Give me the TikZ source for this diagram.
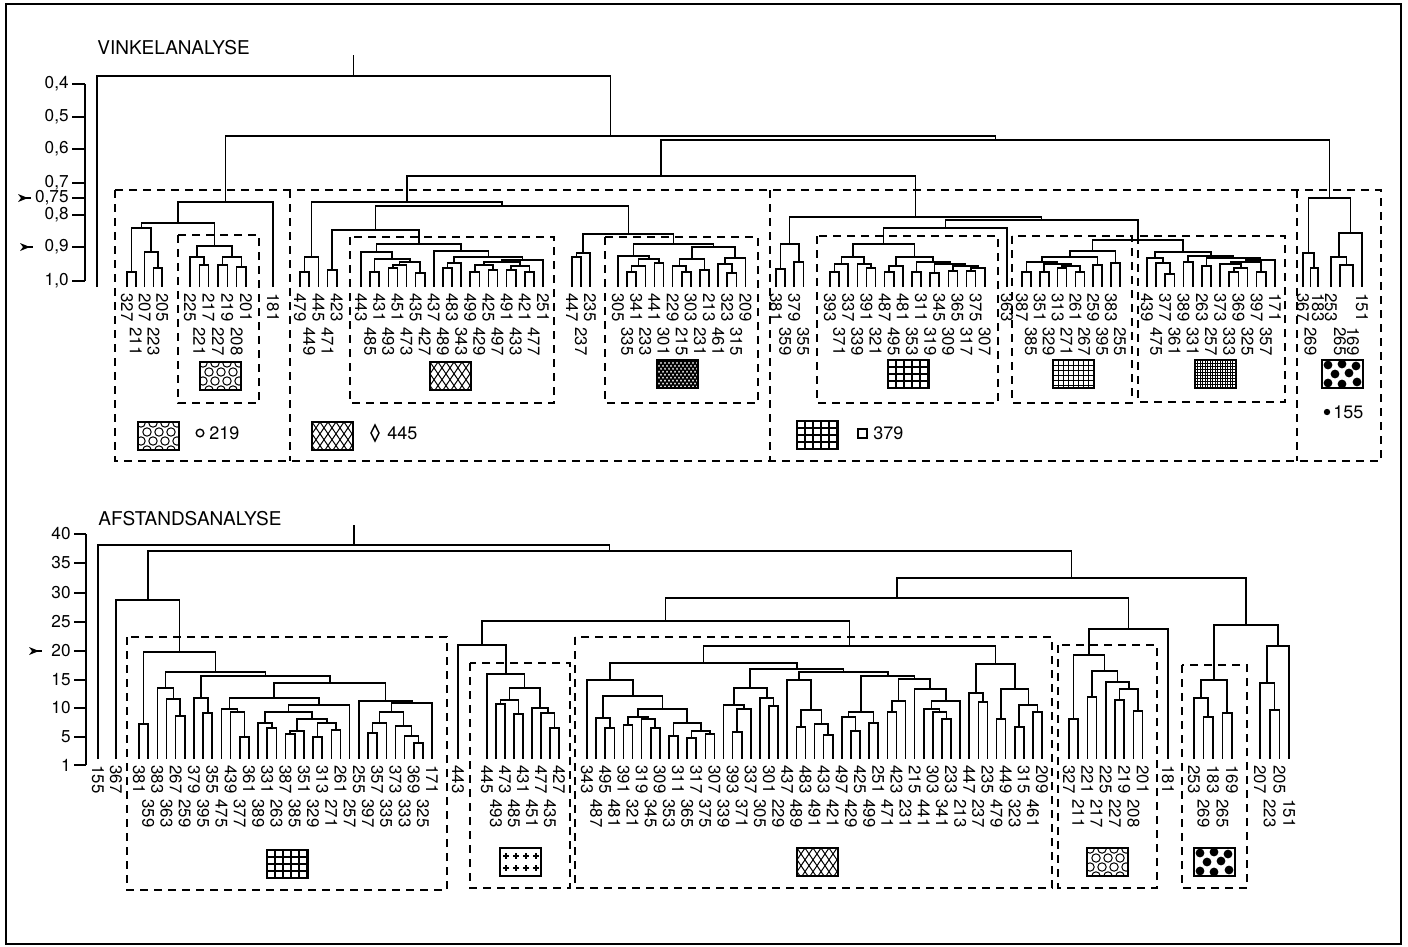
\documentclass[tikz,border=0pt]{standalone}
\usepackage{fontspec}
\setmainfont{TeX Gyre Heros}
\usepackage{tikz}
\usetikzlibrary{calc}
\tikzset{every node/.style={inner sep=0pt}}

% one link of a dendrogram: name, two children, height
\newcommand\jn[4]{%
  \coordinate (#1) at ($(#2)!.5!(#3)$);
  \coordinate (#1) at (#1 |- 0,#4);
  \draw[tree] (#2) |- (#1) -| (#3);}

% a run of leaves: prefix, first x, step, foot, row shift, labels
\newcommand\leafrun[6]{%
  \foreach \lab [count=\i] in {#6} {
    \pgfmathtruncatemacro\rw{mod(\i+1+#5,2)}
    \coordinate (#1\lab) at ({#2+(\i-1)*#3},#4);
    \node[leaf] (#1\lab t) at ({#2+(\i-1)*#3},{#4+6+34*\rw}) {\lab};
  }}

% fill swatches
\newcommand\swatch[3]{%
  \begin{scope}[shift={(#1,#2)}]
    \begin{scope}\clip (0,0) rectangle (41,28); #3 \end{scope}
    \draw[line width=0.8pt] (0,0) rectangle (41,28);
  \end{scope}}
\newcommand\patcirc{\foreach \r in {0,...,3} \foreach \c in {0,...,3}
  \draw[line width=0.5pt] ({\c*12+mod(\r,2)*6+3},{\r*9+1}) circle (2.1pt);}
\newcommand\patdiam[2]{\foreach \k in {-6,...,16}
  \draw[line width=#2] (\k*#1,0) -- ++(19,28) (\k*#1,0) -- ++(-19,28);}
\newcommand\patgrid[3]{\foreach \k in {0,#1,...,42} \draw[line width=#3] (\k,0) -- (\k,28);
  \foreach \k in {0,#2,...,28} \draw[line width=#3] (0,\k) -- (41,\k);}
\newcommand\patdots{\foreach \p in {(6,5),(20,4),(34,6),(13,14),(27,13),(6,23),(20,24),(35,22)}
  \fill \p circle (2.2pt);}
\newcommand\patplus{\foreach \p in {(6,8),(16,8),(26,8),(36,8),(6,20),(16,20),(26,20),(36,20)}
  \draw[line width=1pt] \p ++(-3,0) -- ++(6,0) \p ++(0,-3) -- ++(0,6);}

% level marker on the axis
\newcommand\pointer[2]{\fill (#1,#2-4) -- (#1+10,#2) -- (#1,#2+4) -- (#1+3,#2) -- cycle;
  \draw[line width=0.6pt] (#1+8,#2) -- (#1+13,#2);}

\begin{document}
\begin{tikzpicture}[
    x=0.5pt, y=-0.5pt,
    tree/.style={line width=0.8pt},
    box/.style={line width=1pt, dash pattern=on 4pt off 3pt},
    leaf/.style={rotate=-90, anchor=west, font=\fontsize{8.4}{10}\selectfont},
    tick/.style={anchor=east, font=\fontsize{8.6}{10}\selectfont},
    title/.style={anchor=base west, font=\fontsize{9.5}{11}\selectfont},
    legend/.style={anchor=west, font=\fontsize{9}{11}\selectfont}
]
\useasboundingbox (0,0) rectangle (1408,947);
\draw[line width=1.2pt] (6,4) rectangle (1401,944);

%% ---------------- VINKELANALYSE ----------------
\node[title] (vtitle) at (97,55) {VINKELANALYSE};
\draw[tree] (85,84) -- (85,281);
\foreach \tl/\yy [count=\i] in {{0,4}/84,{0,5}/117,{0,6}/149,{0,7}/183,{0,75}/198,{0,8}/215,{0,9}/247,{1,0}/281} {
  \draw[tree] (72,\yy) -- (85,\yy);
  \node[tick] (uy\i) at (69,\yy) {\tl};}
\pointer{18}{198}
\pointer{20}{247}

\coordinate (u0) at (97,287);
\leafrun{u}{127}{8.8}{287}{0}{327,211,207,223,205}
\leafrun{u}{190}{9.33}{287}{0}{225,221,217,227,219,208,201}
\leafrun{u}{273}{0}{287}{0}{181}
\leafrun{u}{300}{9.2}{287}{0}{479,449,445,471,423}
\leafrun{u}{361}{9.1}{287}{0}{443,485,431,493,451,473,435,427,437,489,483,343,499,429,425,497,491,433,421,477,251}
\leafrun{u}{572}{9}{287}{0}{447,237,235}
\leafrun{u}{618}{9.1}{287}{0}{305,335,341,233,441,301,229,215,303,231,213,461,323,315,209}
\leafrun{u}{776}{9.1}{287}{0}{381,359,379,355}
\leafrun{u}{830}{9.1}{287}{0}{393,371,337,339,391,321,487,495,481,353,311,319,345,309,365,317,375,307}
\leafrun{u}{1007}{0}{287}{0}{363}
\leafrun{u}{1022}{8.9}{287}{0}{387,385,351,329,313,271,261,267,259,395,383,255}
\leafrun{u}{1147}{9.14}{287}{0}{439,475,377,361,389,331,263,257,373,333,369,325,397,357,171}
\leafrun{u}{1303}{7.5}{287}{0}{367,269,183}
\leafrun{u}{1331}{9}{287}{0}{253,265}
\leafrun{u}{1353}{9}{287}{1}{169,151}

\foreach \n/\a/\b/\h in {
  ua1/u327/u211/272, ua2/u223/u205/268, ua3/u207/ua2/252, ua4/ua1/ua3/228,
  ua5/u221/u217/265, ua6/u225/ua5/257, ua7/u227/u219/265, ua8/u208/u201/267,
  ua9/ua7/ua8/257, ua10/ua6/ua9/246, ua11/ua4/ua10/223, ua12/ua11/u181/202,
  ub1/u479/u449/272, ub2/ub1/u445/257, ub3/u471/u423/270,
  ue1/u485/u431/272, ue2/u493/u451/268, ue3/ue2/u473/265, ue4/u435/u427/273,
  ue5/ue3/ue4/262, ue6/ue1/ue5/259, ue7/u443/ue6/252,
  ue8/u489/u483/268, ue9/ue8/u343/263, ue10/u499/u429/272, ue11/u425/u497/270,
  ue12/ue10/ue11/265, ue13/u491/u433/270, ue14/u421/u477/272, ue15/ue13/ue14/266,
  ue16/ue12/ue15/262, ue17/ue16/u251/260, ue18/ue9/ue17/257, ue19/u437/ue18/251,
  ue20/ue7/ue19/244, ub4/ub3/ue20/230,
  ub5/u447/u237/257, ub6/ub5/u235/253,
  uf1/u335/u341/272, uf2/uf1/u233/266, uf3/u441/u301/263, uf4/uf2/uf3/259,
  uf5/u305/uf4/256, uf6/u215/u303/272, uf7/u229/uf6/266, uf8/u231/u213/270,
  uf9/uf7/uf8/259, uf10/u323/u315/273, uf11/u461/uf10/264, uf12/uf11/u209/258,
  uf13/uf9/uf12/247, uf14/uf5/uf13/244, ub7/ub6/uf14/234, ub8/ub4/ub7/206,
  ub9/ub2/ub8/202,
  uh1/u381/u359/269, uh2/u379/u355/262, uh3/uh1/uh2/244,
  ui1/u393/u371/272, ui2/ui1/u337/264, ui3/u391/u321/268, ui4/u339/ui3/264,
  ui5/ui2/ui4/257, ui6/u487/u495/272, ui7/ui6/u481/266, ui8/u353/u311/272,
  ui9/u319/u345/273, ui10/u309/u365/271, ui11/u317/u375/271, ui12/ui11/u307/268,
  ui13/ui10/ui12/266, ui14/ui9/ui13/264, ui15/ui8/ui14/262, ui16/ui7/ui15/257,
  ui17/ui5/ui16/244, uh4/ui17/u363/228,
  uk1/u387/u385/272, uk2/u351/u329/272, uk3/u313/u271/268, uk4/u261/u267/272,
  uk5/uk3/uk4/266, uk6/uk2/uk5/264, uk7/uk1/uk6/262, uk8/u259/u395/265,
  uk9/uk7/uk8/257, uk10/u383/u255/263, uk11/uk9/uk10/251,
  um1/u377/u361/274, um2/u475/um1/263, um3/u439/um2/258, um4/u389/u331/262,
  um5/u263/u257/266, um6/u333/u369/272, um7/um6/u325/268, um8/u373/um7/264,
  um9/u397/u357/272, um10/um8/um9/262, um11/um10/u171/260, um12/um5/um11/258,
  um13/um4/um12/256, um14/um3/um13/252,
  uh5/uk11/um14/240, uh6/uh4/uh5/220, uh7/uh3/uh6/217,
  un1/u269/u183/268, un2/u367/un1/253, un3/u265/u169/265, un4/u253/un3/257,
  un5/un4/u151/233, un6/un2/un5/198,
  ut1/ub9/uh7/176, ut2/ut1/un6/140, ut3/ua12/ut2/136, ut4/u0/ut3/76}
  {\jn{\n}{\a}{\b}{\h}}
\draw[tree] (ut4) -- ++(0,-21);

% groups
\draw[box] (115,190) rectangle (1381,461);
\foreach \xx in {290,770,1297} \draw[box] (\xx,190) -- (\xx,461);
\draw[box] (178,235) rectangle (259,403);
\draw[box] (350,237) rectangle (554,403);
\draw[box] (605,237) rectangle (758,403);
\draw[box] (817,236) rectangle (998,403);
\draw[box] (1012,236) rectangle (1132,403);
\draw[box] (1138,236) rectangle (1285,402);

\swatch{200}{362}{\patcirc}
\swatch{430}{362}{\patdiam{8}{0.5pt}}
\swatch{657}{360}{\patdiam{4}{0.8pt}}
\swatch{888}{360}{\patgrid{8}{7}{0.6pt}}
\swatch{1053}{360}{\patgrid{5}{5}{0.5pt}}
\swatch{1195}{360}{\patgrid{2.5}{3}{0.45pt}}
\swatch{1322}{360}{\patdots}

\swatch{138}{422}{\patcirc}
\draw[line width=0.7pt] (200,433) circle (1.9pt);
\node[legend] (g219) at (209,433) {219};
\swatch{312}{422}{\patdiam{8}{0.5pt}}
\draw[line width=0.7pt] (375,425) -- (379,433) -- (375,441) -- (371,433) -- cycle;
\node[legend] (g445) at (387,433) {445};
\swatch{797}{421}{\patgrid{8}{7}{0.6pt}}
\draw[line width=0.8pt] (858,429) rectangle (867,438);
\node[legend] (g379) at (873,433) {379};
\fill (1327,412) circle (1.6pt);
\node[legend] (g155) at (1333,412) {155};

%% ---------------- AFSTANDSANALYSE ----------------
\node[title] (atitle) at (98,525) {AFSTANDSANALYSE};
\draw[tree] (86,534) -- (86,765);
\foreach \tl/\yy [count=\i] in {40/534,35/563,30/593,25/622,20/651,15/680,10/708,5/737,1/765} {
  \draw[tree] (74,\yy) -- (86,\yy);
  \node[tick] (ly\i) at (71,\yy) {\tl};}
\pointer{29}{651}

\leafrun{l}{98}{0}{759}{0}{155}
\leafrun{l}{116}{0}{759}{0}{367}
\leafrun{l}{139}{9.16}{759}{0}{381,359,383,363,267,259,379,395,355,475,439,377,361,389,331,263,387,385,351,329,313,271,261,257,255,397,357,335,373,333,369,325,171}
\leafrun{l}{458}{0}{759}{0}{443}
\leafrun{l}{487}{9}{759}{0}{445,493,473,485,431,451,477,435,427}
\leafrun{l}{587}{9.1}{759}{0}{343,487,495,481,391,321,319,345,309,353,311,365,317,375,307,339,393,371,337,305,301,229,437,489,483,491,433,421,497,429,425,499,251,471,423,231,215,441,303,341,233,213,447,237,235,479,449,323,315,461,209}
\leafrun{l}{1069}{9.2}{759}{0}{327,211,221,217,225,227,219,208,201}
\leafrun{l}{1168}{0}{759}{0}{181}
\leafrun{l}{1194}{9.5}{759}{0}{253,269,183,265,169}
\leafrun{l}{1260}{9.7}{759}{0}{207,223,205,151}

\foreach \n/\a/\b/\h in {
  ls1/l381/l359/724, ls2/l267/l259/716, ls3/l363/ls2/699, ls4/l383/ls3/688,
  ls5/l395/l355/713, ls6/l379/ls5/698, ls7/l377/l361/737, ls8/l439/ls7/712,
  ls9/l475/ls8/709, ls10/l331/l263/728, ls11/l389/ls10/723, ls12/l387/l385/734,
  ls13/ls12/l351/731, ls14/l329/l313/737, ls15/l271/l261/730, ls16/ls14/ls15/723,
  ls17/ls13/ls16/719, ls18/ls11/ls17/712, ls19/ls18/l257/705, ls20/ls9/ls19/698,
  ls21/l397/l357/733, ls22/ls21/l335/723, ls23/l369/l325/743, ls24/l333/ls23/736,
  ls25/l373/ls24/726, ls26/ls22/ls25/712, ls27/ls26/l171/703, ls28/l255/ls27/701,
  ls29/ls20/ls28/683, ls30/ls6/ls29/676, ls31/ls4/ls30/672, ls32/ls1/ls31/652,
  lp1/l367/ls32/600,
  lv1/l493/l473/704, lv2/l485/l431/714, lv3/lv1/lv2/700, lv4/l435/l427/728,
  lv5/l477/lv4/713, lv6/l451/lv5/708, lv7/lv3/lv6/688, lv8/l445/lv7/674,
  lp2/l443/lv8/645,
  lw1/l495/l481/728, lw2/l487/lw1/718, lw3/l391/l321/725, lw4/l345/l309/728,
  lw5/l319/lw4/719, lw6/lw3/lw5/717, lw7/l353/l311/736, lw8/l365/l317/738,
  lw9/l375/l307/734, lw10/lw8/lw9/731, lw11/lw7/lw10/723, lw12/lw6/lw11/709,
  lw13/lw2/lw12/696, lw14/l343/lw13/680,
  lx1/l393/l371/732, lx2/lx1/l337/709, lx3/l339/lx2/705, lx4/l301/l229/706,
  lx5/l305/lx4/698, lx6/lx3/lx5/688,
  ly1/l489/l483/727, ly2/l433/l421/735, ly3/l491/ly2/724, ly4/ly1/ly3/710,
  ly5/l429/l425/731, ly6/l497/ly5/717, ly7/l499/l251/723, ly8/ly6/ly7/712,
  ly9/l471/l423/712, ly10/ly9/l231/701,
  lz1/l341/l233/719, lz2/l303/lz1/712, lz3/l441/lz2/709, lz4/lz3/l213/701,
  lz5/l215/lz4/689, ly11/ly10/lz5/679, ly12/ly8/ly11/676, ly13/l437/ly4/680,
  ly14/ly13/ly12/672, ly15/lx6/ly14/669, lw15/lw14/ly15/663,
  la1/l237/l235/702, la2/l447/la1/693, la3/l479/l449/719, la4/l323/l315/727,
  la5/l461/l209/712, la6/la4/la5/705, la7/la3/la6/689, la8/la2/la7/664,
  lp3/lw15/la8/646,
  lb1/l327/l211/719, lb2/l221/l217/697, lb3/l227/l219/700, lb4/l208/l201/711,
  lb5/lb3/lb4/689, lb6/l225/lb5/682, lb7/lb2/lb6/671, lb8/lb1/lb7/655,
  lp4/lb8/l181/629,
  lc1/l269/l183/717, lc2/l253/lc1/698, lc3/l265/l169/713, lc4/lc2/lc3/680,
  ld1/l223/l205/710, ld2/l207/ld1/683, ld3/ld2/l151/646, lp5/lc4/ld3/625,
  lp6/lp2/lp3/621, lp7/lp6/lp4/598, lp8/lp7/lp5/578, lp9/lp1/lp8/551,
  lp10/l155/lp9/545}
  {\jn{\n}{\a}{\b}{\h}}
\draw[tree] (lp10) -- ++(0,-20);

% groups
\draw[box] (127,637) rectangle (447,890);
\draw[box] (470,663) rectangle (570,888);
\draw[box] (575,637) rectangle (1052,888);
\draw[box] (1058,645) rectangle (1157,888);
\draw[box] (1182,665) rectangle (1247,888);

\swatch{267}{850}{\patgrid{8}{7}{0.6pt}}
\swatch{500}{848}{\patplus}
\swatch{797}{848}{\patdiam{8}{0.5pt}}
\swatch{1087}{848}{\patcirc}
\swatch{1194}{848}{\patdots}
\end{tikzpicture}
\end{document}
